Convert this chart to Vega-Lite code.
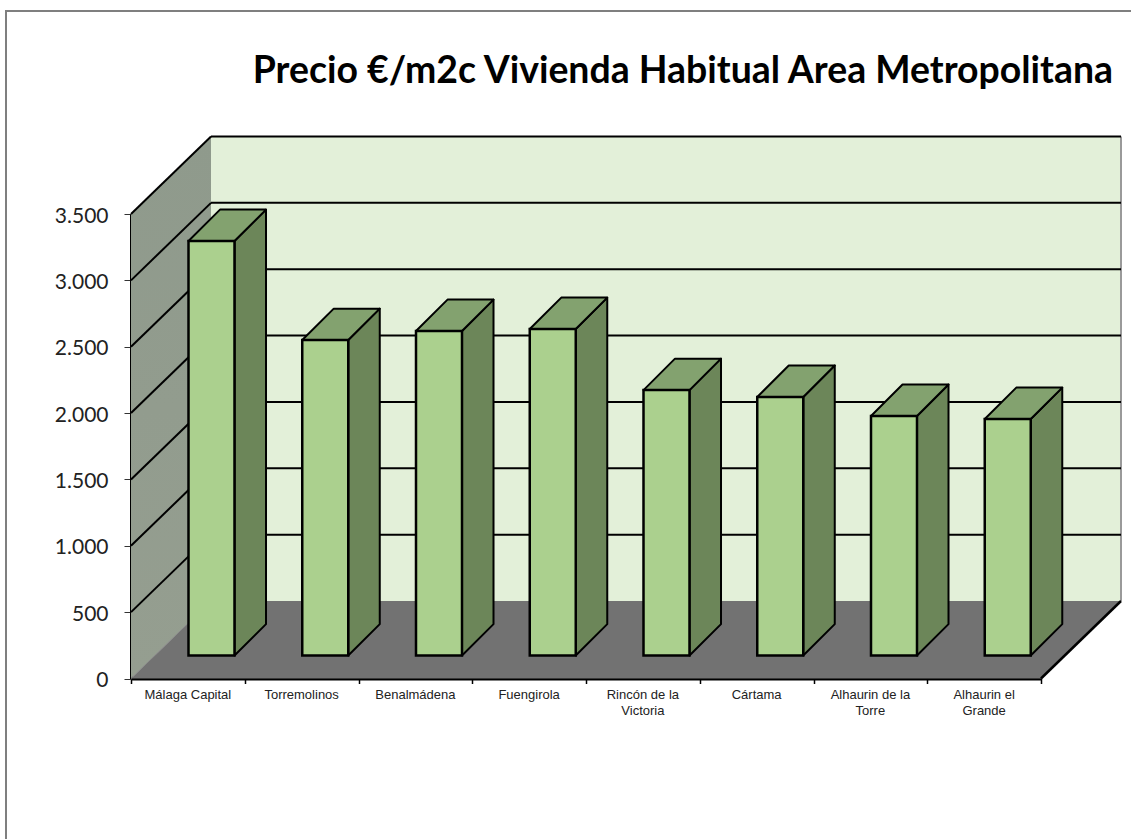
{
"$schema":"https://vega.github.io/schema/vega-lite/v6.json",
"width":910,"height":464.5,
"autosize":{"type":"none"},
"padding":{"left":131,"top":214,"right":90,"bottom":160.5},
"background":"white",
"config":{"view":{"stroke":null}},
"title":{"text":"Precio €/m2c Vivienda Habitual Area Metropolitana","font":"Lato","fontSize":37.4,"fontWeight":"bold","color":"black","anchor":"end","frame":"group","baseline":"alphabetic","offset":-110.5,"dx":72},
"datasets":{
"barras":[
{"categoria":"Málaga Capital","precio":3123},
{"categoria":"Torremolinos","precio":2377},
{"categoria":"Benalmádena","precio":2445},
{"categoria":"Fuengirola","precio":2460},
{"categoria":"Rincón de la\nVictoria","precio":2000},
{"categoria":"Cártama","precio":1948},
{"categoria":"Alhaurin de la\nTorre","precio":1805},
{"categoria":"Alhaurin el\nGrande","precio":1782}
],
"rejilla":[{"v":500},{"v":1000},{"v":1500},{"v":2000},{"v":2500},{"v":3000},{"v":3500}],
"uno":[{"a":1}]
},
"encoding":{
"x":{"field":"px","type":"quantitative","title":null,"scale":{"domain":[0,8],"nice":false,"zero":false},
"axis":{"values":[0,1,2,3,4,5,6,7,8],"labels":false,"grid":false,"tickColor":"black","tickSize":5,"tickWidth":1.5,"domainColor":"black","domainWidth":3,"title":null}},
"y":{"field":"py","type":"quantitative","title":null,"stack":null,"scale":{"domain":[0,3500],"nice":false,"zero":false},
"axis":{"values":[0,500,1000,1500,2000,2500,3000,3500],"grid":false,"tickColor":"#333333","tickSize":7,"tickWidth":1,"domainColor":"black","domainWidth":3,"labelFont":"Lato","labelFontSize":21,"labelColor":"#222222","labelPadding":16,"labelOffset":2,"labelExpr":"replace(format(datum.value,','),',','.')","title":null}}
},
"layer":[
{"data":{"name":"uno"},"transform":[{"calculate":"-1.0989","as":"px"},{"calculate":"9.2","as":"px2"},{"calculate":"5030","as":"py"},{"calculate":"-1300","as":"py2"}],
"mark":{"type":"rect","fill":null,"stroke":"#7f7f7f","strokeWidth":2},"encoding":{"x2":{"field":"px2"},"y2":{"field":"py2"}}},
{"data":{"name":"uno"},"transform":[{"calculate":"0.7033","as":"px"},{"calculate":"8.7033","as":"px2"},{"calculate":"584","as":"py"},{"calculate":"4084","as":"py2"}],
"mark":{"type":"rect","fill":"#E3F0D9"},"encoding":{"x2":{"field":"px2"},"y2":{"field":"py2"}}},
{"data":{"name":"uno"},"transform":[{"calculate":"8.7033","as":"px"},{"calculate":"584","as":"py"},{"calculate":"4084","as":"py2"}],
"mark":{"type":"rule","stroke":"#9a9a9a","strokeWidth":2},"encoding":{"y2":{"field":"py2"}}},
{"data":{"name":"uno"},"transform":[{"calculate":"[0,1]","as":"p"},{"flatten":["p"]},{"calculate":"datum.p*0.7033","as":"px"},{"calculate":"datum.p*584","as":"py"},{"calculate":"3500+datum.p*584","as":"py2"}],
"mark":{"type":"area","interpolate":"linear","fill":{"gradient":"linear","x1":0,"y1":0,"x2":0,"y2":1,"stops":[{"offset":0,"color":"#8F9A8C"},{"offset":1,"color":"#959E90"}]}},"encoding":{"y2":{"field":"py2"}}},
{"data":{"name":"uno"},"transform":[{"calculate":"[0,1]","as":"p"},{"flatten":["p"]},{"calculate":"datum.p*0.7033","as":"px"},{"calculate":"8+datum.p*0.7033","as":"px2"},{"calculate":"datum.p*584","as":"py"}],
"mark":{"type":"area","orient":"horizontal","interpolate":"linear","fill":"#727272"},"encoding":{"x2":{"field":"px2"}}},
{"data":{"name":"uno"},"transform":[{"calculate":"[0,1]","as":"p"},{"flatten":["p"]},{"calculate":"datum.p*0.7033","as":"px"},{"calculate":"datum.p*584","as":"py"}],
"mark":{"type":"line","stroke":"#8a8a8a","strokeWidth":1}},
{"data":{"name":"uno"},"transform":[{"calculate":"[0,1]","as":"p"},{"flatten":["p"]},{"calculate":"8+datum.p*0.7033","as":"px"},{"calculate":"datum.p*584","as":"py"}],
"mark":{"type":"line","stroke":"black","strokeWidth":2.5}},
{"data":{"name":"rejilla"},"transform":[{"calculate":"0.7033","as":"px"},{"calculate":"8.7033","as":"px2"},{"calculate":"datum.v+584","as":"py"}],
"mark":{"type":"rule","stroke":"black","strokeWidth":2},"encoding":{"x2":{"field":"px2"}}},
{"data":{"name":"rejilla"},"transform":[{"calculate":"[0,1]","as":"p"},{"flatten":["p"]},{"calculate":"datum.p*0.7033","as":"px"},{"calculate":"datum.v+datum.p*584","as":"py"}],
"mark":{"type":"line","stroke":"black","strokeWidth":2},"encoding":{"detail":{"field":"v"}}},
{"data":{"name":"barras"},"transform":[{"window":[{"op":"row_number","as":"fila"}]},{"calculate":"[0,1]","as":"p"},{"flatten":["p"]},{"calculate":"datum.fila-1+0.9099+datum.p*0.277","as":"px"},{"calculate":"173+datum.precio+datum.p*237","as":"py"},{"calculate":"173+datum.p*237","as":"py2"}],
"mark":{"type":"area","interpolate":"linear","fill":"#6C8659","stroke":"black","strokeWidth":2,"strokeJoin":"round"},"encoding":{"y2":{"field":"py2"},"detail":{"field":"categoria"}}},
{"data":{"name":"barras"},"transform":[{"window":[{"op":"row_number","as":"fila"}]},{"calculate":"[0,1]","as":"p"},{"flatten":["p"]},{"calculate":"datum.fila-1+0.5055+datum.p*0.277","as":"px"},{"calculate":"datum.fila-1+0.9099+datum.p*0.277","as":"px2"},{"calculate":"173+datum.precio+datum.p*237","as":"py"}],
"mark":{"type":"area","orient":"horizontal","interpolate":"linear","fill":"#83A26F","stroke":"black","strokeWidth":2,"strokeJoin":"round"},"encoding":{"x2":{"field":"px2"},"detail":{"field":"categoria"}}},
{"data":{"name":"barras"},"transform":[{"window":[{"op":"row_number","as":"fila"}]},{"calculate":"datum.fila-1+0.5055","as":"px"},{"calculate":"datum.fila-1+0.9099","as":"px2"},{"calculate":"173+datum.precio","as":"py"},{"calculate":"173","as":"py2"}],
"mark":{"type":"rect","fill":"#ABD08E","stroke":"black","strokeWidth":2.5},"encoding":{"x2":{"field":"px2"},"y2":{"field":"py2"}}},
{"data":{"name":"barras"},"transform":[{"window":[{"op":"row_number","as":"fila"}]},{"calculate":"datum.fila-0.5","as":"px"},{"calculate":"0","as":"py"}],
"mark":{"type":"text","font":"Liberation Sans","fontSize":13,"color":"#222222","align":"center","baseline":"top","yOffset":10,"lineBreak":"\n","lineHeight":16.5},"encoding":{"text":{"field":"categoria"}}}
]
}
